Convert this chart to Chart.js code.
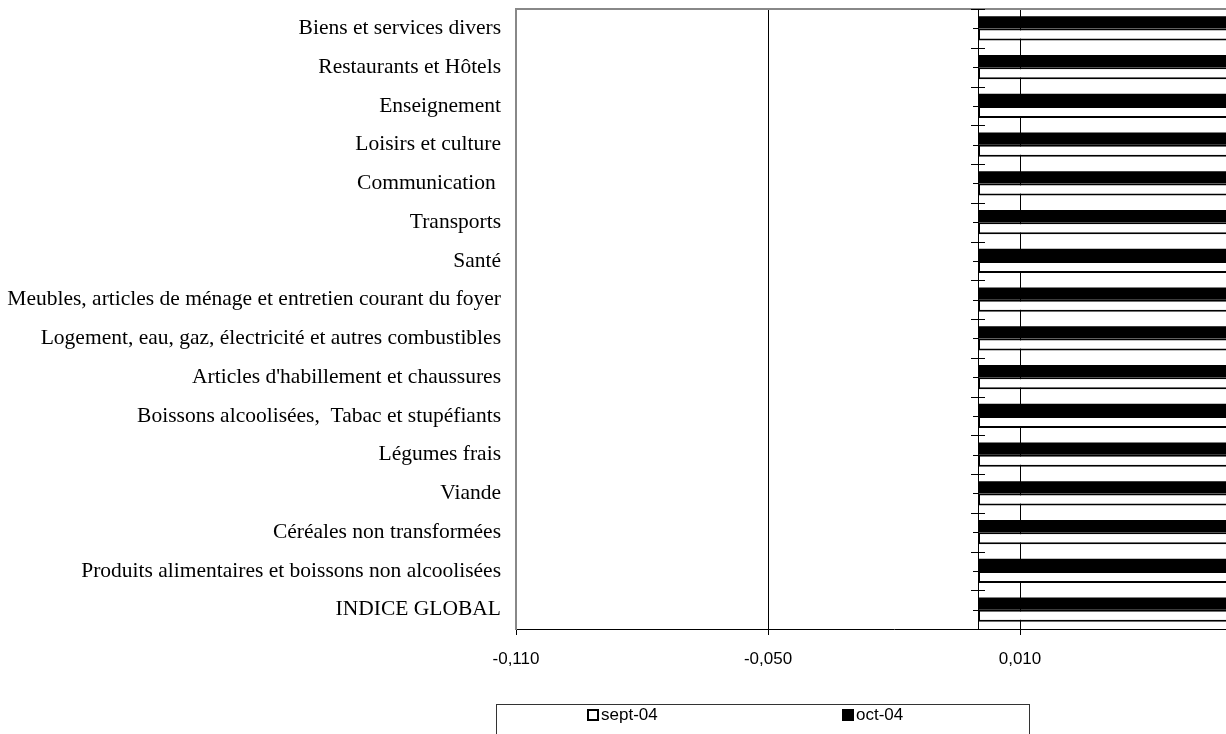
<!DOCTYPE html>
<html>
<head>
<meta charset="utf-8">
<script src="https://cdn.jsdelivr.net/npm/chart.js@4.4.1/dist/chart.umd.min.js"></script>
<style>
  html, body { margin: 0; padding: 0; background: #fff; overflow: hidden; }
  #wrap { position: relative; width: 1226px; height: 734px; overflow: hidden; }
  #chart { position: absolute; left: 0; top: 0; }
  #legend {
    position: absolute; left: 496px; top: 704px; width: 534px; height: 40px;
    border: 1px solid #333; box-sizing: border-box;
    font-family: "Liberation Sans", Arial, sans-serif; font-size: 17px; color: #000;
  }
  .item { position: absolute; top: 0px; line-height: 20px; }
  .box { display: inline-block; width: 12px; height: 12px; box-sizing: border-box; border: 2px solid #000; vertical-align: -1px; margin-right: 2px; }
</style>
</head>
<body>
<div id="wrap">
  <canvas id="chart" width="1290" height="734"></canvas>
  <div id="legend">
    <div class="item" style="left:90px"><span class="box" style="background:#fff"></span>sept-04</div>
    <div class="item" style="left:345px"><span class="box" style="background:#000"></span>oct-04</div>
  </div>
</div>
<script>
const categories = [
  'Biens et services divers',
  'Restaurants et Hôtels',
  'Enseignement',
  'Loisirs et culture',
  'Communication ',
  'Transports',
  'Santé',
  'Meubles, articles de ménage et entretien courant du foyer',
  'Logement, eau, gaz, électricité et autres combustibles',
  "Articles d'habillement et chaussures",
  'Boissons alcoolisées,  Tabac et stupéfiants',
  'Légumes frais',
  'Viande',
  'Céréales non transformées',
  'Produits alimentaires et boissons non alcoolisées',
  'INDICE GLOBAL'
]

// bars run past the visible right edge; values estimated
const sept04 = [0.064, 0.066, 0.063, 0.065, 0.062, 0.066, 0.064, 0.065, 0.063, 0.066, 0.064, 0.062, 0.065, 0.063, 0.064, 0.065]
const oct04 = [0.066, 0.064, 0.065, 0.063, 0.066, 0.065, 0.063, 0.064, 0.066, 0.062, 0.065, 0.064, 0.063, 0.066, 0.065, 0.064]

const xTicks = [-0.110, -0.050, 0.010, 0.070]

const fmt = v => v.toFixed(3).replace('.', ',')

const frame = {
  id: 'frame',
  afterDatasetsDraw(chart) {
    const ctx = chart.ctx
    const a = chart.chartArea
    const x0 = chart.scales.x.getPixelForValue(0)
    const y = chart.scales.y
    const n = categories.length
    const band = (a.bottom - a.top) / n

    ctx.save()
    // top border
    ctx.strokeStyle = '#888'
    ctx.lineWidth = 2
    ctx.beginPath()
    ctx.moveTo(a.left - 1, a.top)
    ctx.lineTo(a.right, a.top)
    ctx.stroke()

    // category axis at zero
    ctx.strokeStyle = '#000'
    ctx.lineWidth = 1
    ctx.beginPath()
    ctx.moveTo(Math.round(x0) + 0.5, a.top)
    ctx.lineTo(Math.round(x0) + 0.5, a.bottom)
    for (let i = 0; i <= n; i++) {
      const yy = Math.round(a.top + i * band) + 0.5
      ctx.moveTo(x0 - 7, yy)
      ctx.lineTo(x0 + 7, yy)
    }
    for (let i = 0; i < n; i++) {
      const yy = Math.round(y.getPixelForValue(i)) + 0.5
      ctx.moveTo(x0 - 5, yy)
      ctx.lineTo(x0, yy)
    }
    ctx.stroke()
    ctx.restore()
  }
}

new Chart(document.getElementById('chart'), {
  type: 'bar',
  data: {
    labels: categories,
    datasets: [
      {
        label: 'oct-04',
        data: oct04,
        backgroundColor: '#000',
        borderWidth: 0
      },
      {
        label: 'sept-04',
        data: sept04,
        backgroundColor: '#fff',
        borderColor: '#000',
        borderWidth: 2,
        borderSkipped: false
      }
    ]
  },
  options: {
    indexAxis: 'y',
    responsive: false,
    animation: false,
    categoryPercentage: 0.62,
    barPercentage: 1.0,
    layout: { padding: { left: 0, right: 18, top: 9, bottom: 64 } },
    plugins: {
      legend: { display: false },
      tooltip: { enabled: false }
    },
    scales: {
      x: {
        min: -0.110,
        max: 0.070,
        afterBuildTicks: scale => { scale.ticks = xTicks.map(v => ({ value: v })) },
        afterFit: scale => {
          scale.height = 41
          scale.paddingLeft = 0
          scale.paddingRight = 0
        },
        grid: {
          color: ctx => ctx.index === 0 ? 'rgba(0,0,0,0)' : '#000',
          tickColor: '#000',
          lineWidth: 1,
          tickLength: 6
        },
        border: { display: true, color: '#000', width: 1 },
        ticks: {
          padding: 14,
          maxRotation: 0,
          color: '#000',
          font: { family: '"Liberation Sans", Arial, sans-serif', size: 17 },
          callback: v => fmt(v)
        }
      },
      y: {
        afterFit: scale => {
          scale.width = 516
          scale.paddingTop = 0
          scale.paddingBottom = 0
        },
        grid: { display: false, drawTicks: false },
        border: { display: true, color: '#888', width: 2 },
        ticks: {
          padding: 15,
          autoSkip: false,
          color: '#000',
          font: { family: '"Liberation Serif", "Times New Roman", serif', size: 21.5 }
        }
      }
    }
  },
  plugins: [frame]
})
</script>
</body>
</html>
